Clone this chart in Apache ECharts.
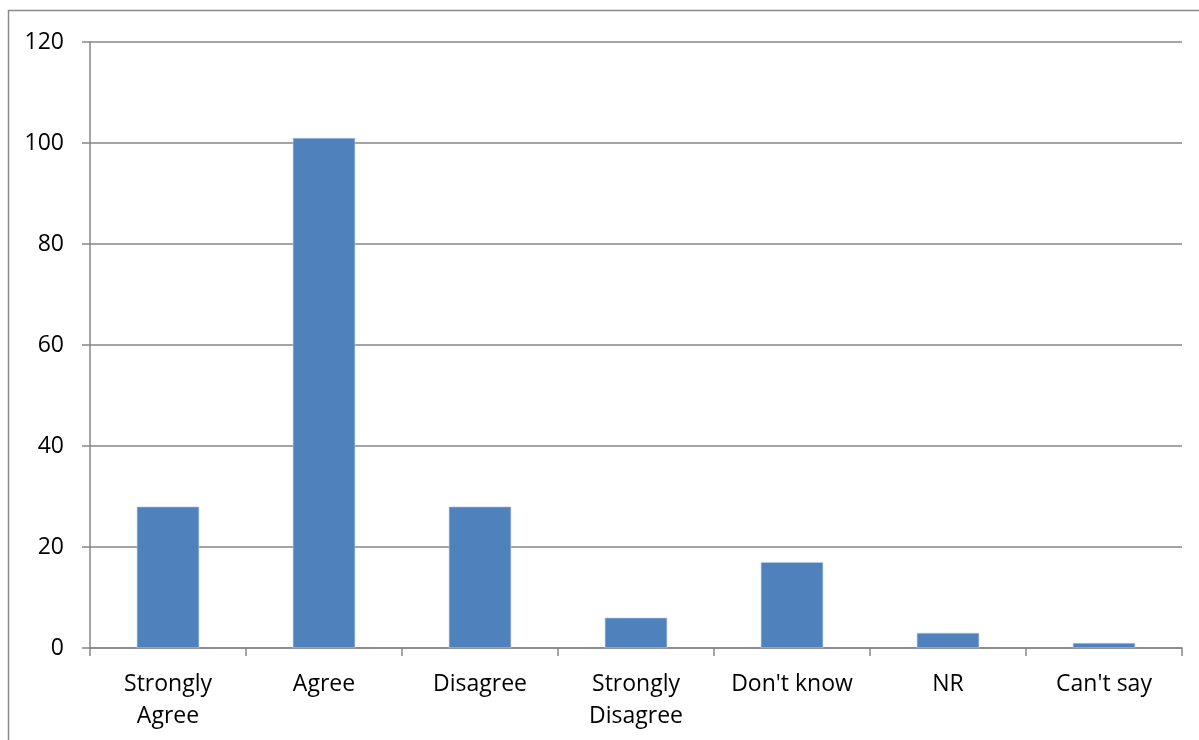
<!DOCTYPE html>
<html>
<head>
<meta charset="utf-8">
<script src="https://cdn.jsdelivr.net/npm/echarts@6/dist/echarts.min.js"></script>
<style>
html,body{margin:0;padding:0;background:#fff;}
#chart{width:1199px;height:740px;}
</style>
</head>
<body>
<div id="chart"></div>
<script>
const categories = ["Strongly\nAgree", "Agree", "Disagree", "Strongly\nDisagree", "Don't know", "NR", "Can't say"];
const values = [28, 101, 28, 6, 17, 3, 1];
const yMin = 0, yMax = 120, yInterval = 20;

const chart = echarts.init(document.getElementById('chart'), null, {renderer: 'canvas'});
const axisGray = '#868686';
chart.setOption({
  animation: false,
  backgroundColor: '#ffffff',
  graphic: [{
    type: 'rect',
    shape: {x: 8.5, y: 10.5, width: 1400, height: 900},
    style: {fill: 'none', stroke: '#8a8a8a', lineWidth: 1.5},
    silent: true,
    z: -10
  }],
  grid: {left: 90, top: 42, right: 17, bottom: 92, containLabel: false},
  xAxis: {
    type: 'category',
    data: categories,
    boundaryGap: true,
    axisLine: {lineStyle: {color: axisGray, width: 1.5}},
    axisTick: {show: true, length: 8, lineStyle: {color: axisGray, width: 1.5}},
    axisLabel: {
      interval: 0,
      margin: 20,
      color: '#000',
      fontFamily: 'Open Sans',
      fontSize: 23,
      lineHeight: 32,
      align: 'center'
    }
  },
  yAxis: {
    type: 'value',
    min: yMin, max: yMax, interval: yInterval,
    axisLine: {show: true, lineStyle: {color: axisGray, width: 1.5}},
    axisTick: {show: true, length: 8, lineStyle: {color: axisGray, width: 1.5}},
    splitLine: {show: true, lineStyle: {color: axisGray, width: 1.5}},
    axisLabel: {
      margin: 26,
      color: '#000',
      fontFamily: 'Open Sans',
      fontSize: 23
    }
  },
  series: [{
    type: 'bar',
    data: values,
    barWidth: '40%',
    itemStyle: {color: '#4F81BD', borderColor: '#B9CDE5', borderWidth: 0.6}
  }]
});
</script>
</body>
</html>
